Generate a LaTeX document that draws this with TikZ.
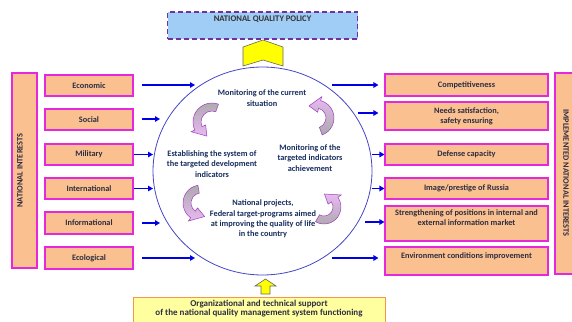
\documentclass[tikz,border=0pt]{standalone}
\usepackage{fontspec}
\setmainfont{Carlito}
\usetikzlibrary{arrows.meta,calc,shapes.geometric}
\definecolor{boxfill}{RGB}{250,192,144}
\definecolor{boxline}{RGB}{230,40,220}
\definecolor{polfill}{RGB}{160,205,245}
\definecolor{polline}{RGB}{112,48,160}
\definecolor{yel}{RGB}{255,255,0}
\definecolor{supfill}{RGB}{255,255,160}
\definecolor{supline}{RGB}{247,150,70}
\definecolor{arrblue}{RGB}{0,0,230}
\definecolor{circline}{RGB}{70,70,200}
\definecolor{circtext}{RGB}{23,45,94}
\definecolor{boxtext}{RGB}{45,45,65}
\definecolor{cpink}{RGB}{232,185,242}
\definecolor{cgray}{RGB}{170,170,170}
\definecolor{cline}{RGB}{160,60,190}
\newcommand\curvarr[7]{%
  \pgfmathsetmacro\cvRo{#3+4}\pgfmathsetmacro\cvRi{#3-4}%
  \pgfmathsetmacro\cvHo{#3+8}\pgfmathsetmacro\cvHi{#3-8}%
  \path[carrow,#7] ($(#1,-#2)+(#4:\cvRo pt)$) arc[start angle=#4,end angle=#5,radius=\cvRo pt]
    -- ($(#1,-#2)+(#5:\cvHo pt)$) -- ($(#1,-#2)+(#6:#3pt)$) -- ($(#1,-#2)+(#5:\cvHi pt)$)
    -- ($(#1,-#2)+(#5:\cvRi pt)$) arc[start angle=#5,end angle=#4,radius=\cvRi pt] -- cycle;}
\begin{document}
\begin{tikzpicture}[x=1pt,y=1pt,
  every node/.style={font=\fontsize{8.3}{10.3}\selectfont\bfseries},
  box/.style={draw=boxline, line width=1.1pt, fill=boxfill, text=boxtext, align=center, inner sep=1pt},
  lbox/.style={box, minimum width=88pt, minimum height=21pt},
  rbox/.style={box, minimum width=163pt, minimum height=21pt},
  ctext/.style={text=circtext, align=center, inner sep=0pt},
  arr/.style={draw=arrblue, line width=1.6pt, -{Triangle[length=5pt,width=5.5pt]}},
  carrow/.style={draw=cline, line width=0.5pt},
  yarrow/.style={draw=black!60, line width=0.6pt, fill=yel}]
\useasboundingbox (0,0) rectangle (572,-321);
\clip (0,0) rectangle (572,-321);

% top policy box
\node[draw=polline, line width=1.5pt, dash pattern=on 5pt off 3pt, fill=polfill,
  minimum width=190pt, minimum height=27pt, text depth=13pt, text=black!80, inner sep=0pt,
  font=\fontsize{8.6}{10}\selectfont\bfseries] (pol) at (262.5,-25.5) {NATIONAL QUALITY POLICY};

% circle
\node[ellipse, draw=circline, line width=0.8pt, fill=white, minimum width=219pt, minimum height=208pt, inner sep=0pt] (cc) at (262.5,-171) {};

% yellow chevron from circle to policy
\path[yarrow] (243,-47) -- (263,-40) -- (283,-47) -- (283,-66) -- (263,-60) -- (243,-66) -- cycle;

% left vertical box
\node[box, minimum width=25pt, minimum height=195pt] (ni) at (24.5,-170.5) {};
\node[rotate=90, text=boxtext, font=\fontsize{8.3}{9}\selectfont\bfseries] (nit) at (20,-170.5) {NATIONAL INTERESTS};
% right vertical box
\node[box, minimum width=22pt, minimum height=201pt] (ini) at (566,-173.5) {};
\node[rotate=-90, text=boxtext, font=\fontsize{8.3}{9}\selectfont\bfseries] (init) at (566,-173) {IMPLEMENTED NATIONAL INTERESTS};

% left boxes
\node[lbox] (eco) at (89,-85.5) {Economic};
\node[lbox] (soc) at (89,-119.5) {Social};
\node[lbox] (mil) at (89,-154.5) {Military};
\node[lbox] (int) at (89,-188.5) {International};
\node[lbox, minimum height=22pt] (inf) at (89,-223) {Informational};
\node[lbox, minimum height=22pt] (ecl) at (89,-258) {Ecological};

% right boxes
\node[rbox, minimum height=22pt] (comp) at (466.5,-85) {Competitiveness};
\node[rbox, minimum height=28pt] (need) at (466.5,-116) {Needs satisfaction,\\safety ensuring};
\node[rbox] (def) at (466.5,-154.5) {Defense capacity};
\node[rbox] (img) at (466.5,-188.5) {Image/prestige of Russia};
\node[rbox, minimum height=35pt, text depth=12pt] (str) at (466.5,-223.5) {Strengthening of positions in internal and\\external information market};
\node[rbox, minimum height=28pt, text depth=10pt] (env) at (466.5,-261) {Environment conditions improvement};

% circle texts
\node[ctext] (t1) at (262,-98) {Monitoring of the current\\situation};
\node[ctext] (t2) at (212,-164) {Establishing the system of\\the targeted development\\indicators};
\node[ctext] (t3) at (310,-158) {Monitoring of the\\targeted indicators\\achievement};
\node[ctext] (t4) at (263,-219) {National projects,\\Federal target-programs aimed\\at improving the quality of life\\in the country};

% curved arrows
\curvarr{212}{122}{15}{70}{205}{250}{top color=cgray, bottom color=cpink}
\curvarr{316}{118}{14}{-70}{75}{120}{top color=cpink, bottom color=cgray}
\curvarr{201}{203}{14}{100}{235}{285}{top color=cgray, bottom color=cpink}
\curvarr{324}{207}{13}{-120}{35}{88}{top color=cpink, bottom color=cgray}

% bottom support box
\node[draw=supline, line width=1pt, fill=supfill, text=boxtext, align=center, anchor=north,
  minimum width=252pt, inner ysep=2.5pt, text depth=20pt,
  font=\fontsize{9}{9.5}\selectfont\bfseries] (sup) at (259,-297)
  {Organizational and technical support\\of the national quality management system functioning};
\path[yarrow] (265.5,-279) -- (276,-286) -- (270,-286) -- (270,-294) -- (261,-294) -- (261,-286) -- (255,-286) -- cycle;

% coordinates for arrow ends
\coordinate (ecoS) at (142,-85);  \coordinate (ecoE) at (195,-85);
\coordinate (socS) at (142,-119); \coordinate (socE) at (160,-119);
\coordinate (milE) at (153,-154.5);
\coordinate (intE) at (153,-188.5);
\coordinate (infS) at (142,-223); \coordinate (infE) at (160,-223);
\coordinate (eclS) at (142,-258); \coordinate (eclE) at (195,-258);
\coordinate (compS) at (332,-85);
\coordinate (needS) at (358,-113);
\coordinate (defS) at (372,-154.5);
\coordinate (imgS) at (372,-188.5);
\coordinate (strS) at (365,-222);
\coordinate (envS) at (332,-258);

\draw[arr] (ecoS) -- (ecoE);
\draw[arr] (socS) -- (socE);
\draw[arr] (mil.east) -- (milE);
\draw[arr] (int.east) -- (intE);
\draw[arr] (infS) -- (infE);
\draw[arr] (eclS) -- (eclE);
\draw[arr] (compS) -- ([xshift=-6pt]comp.west |- compS);
\draw[arr] (needS) -- ([xshift=-6pt]need.west |- needS);
\draw[arr] (defS) -- (def.west |- defS);
\draw[arr] (imgS) -- (img.west |- imgS);
\draw[arr] (strS) -- (str.west |- strS);
\draw[arr] (envS) -- ([xshift=-6pt]env.west |- envS);
\end{tikzpicture}
\end{document}
